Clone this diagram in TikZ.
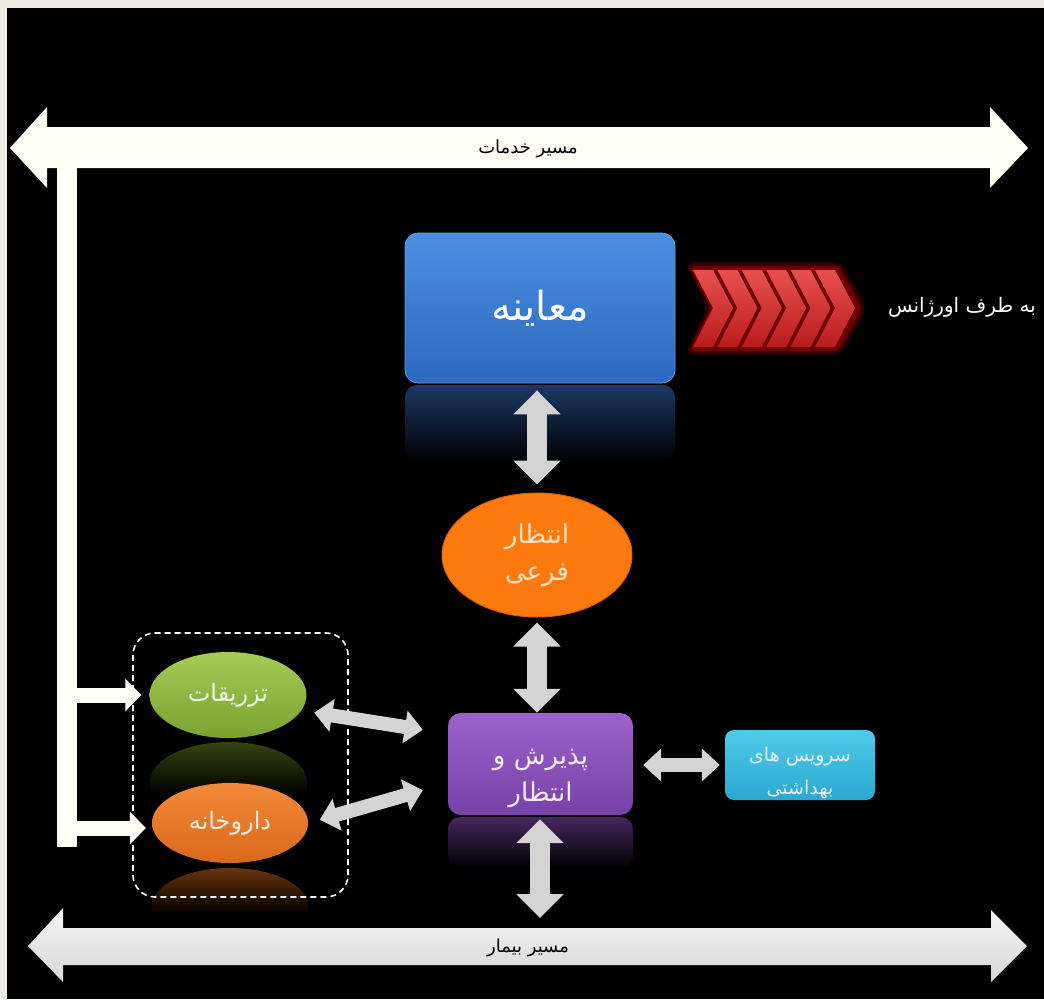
\documentclass[tikz,border=0pt]{standalone}
\usepackage{fontspec}
\newfontfamily\fa[Script=Arabic]{DejaVu Sans}
\TeXXeTstate=1
\usetikzlibrary{arrows.meta,shapes.geometric,calc}
\newcommand{\myrtl}[1]{\beginR #1\endR}
\newcommand{\twolines}[3]{\raisebox{-#1}[0pt][0pt]{\begin{tabular}{@{}c@{}}#2\\#3\end{tabular}}}
\definecolor{beigebg}{RGB}{238,235,227}
\definecolor{barwhite}{RGB}{255,255,246}
\definecolor{arrgray}{RGB}{212,212,212}
\begin{document}
\begin{tikzpicture}[x=1pt,y=-1pt,
  fsz/.style 2 args={font=\fa\fontsize{#1}{#2}\selectfont},
  rbox/.style={rounded corners=13pt, inner sep=0pt, align=center},
  ellnode/.style={ellipse, inner sep=0pt, align=center},
  bigarr/.style={draw=arrgray, line width=20pt,
     {Triangle[width=46pt,length=24pt]}-{Triangle[width=46pt,length=24pt]}},
  smallarr/.style={draw=arrgray, line width=14pt,
     {Triangle[width=32pt,length=18pt]}-{Triangle[width=32pt,length=18pt]}},
  feedarr/.style={draw=barwhite, line width=15pt,
     -{Triangle[width=32pt,length=16pt]}},
  reflect/.style={rounded corners=12pt},
  pathlabel/.style={fsz={18}{22}, text=black}
]
% background
\fill[beigebg] (0,0) rectangle (1044,999);
\fill[black] (7,8) rectangle (1044,999);
\useasboundingbox (0,0) rectangle (1044,999);

% top service path
\fill[barwhite] (10,148) -- (47,107) -- (47,127) -- (990,127) -- (990,107) -- (1028,148)
  -- (990,188) -- (990,168) -- (47,168) -- (47,188) -- cycle;
\node[pathlabel] (srv) at (528,149) {\beginR مسیر خدمات\endR};

% vertical bar
\node[fill=barwhite, minimum width=20pt, minimum height=679pt, inner sep=0pt,
  anchor=north west] (bar) at (57,168) {};

% bottom patient path
\shade[top color=gray!8, bottom color=gray!32]
  (28,946) -- (63,908) -- (63,928) -- (991,928) -- (991,910) -- (1027,946)
  -- (991,982) -- (991,965) -- (63,965) -- (63,982) -- cycle;
\node[pathlabel] (pat) at (528,948) {\beginR مسیر بیمار\endR};
\coordinate (pattop) at (540,918);

% reflections
\shade[reflect, top color={rgb,255:red,28;green,55;blue,100}, bottom color=black]
  (405,385) rectangle (675,462);
\shade[reflect, top color={rgb,255:red,70;green,40;blue,95}, bottom color=black]
  (448,817) rectangle (633,868);
\shade[top color={rgb,255:red,50;green,70;blue,18}, bottom color=black]
  (150,794) -- (150,782) arc[start angle=180, end angle=360, x radius=78.5, y radius=40] -- (307,794) -- cycle;
\shade[top color={rgb,255:red,105;green,52;blue,14}, bottom color=black]
  (152,914) -- (152,906) arc[start angle=180, end angle=360, x radius=78, y radius=38] -- (308,914) -- cycle;

% exam box
\node[rbox, minimum width=270pt, minimum height=150pt,
  top color={rgb,255:red,76;green,144;blue,224}, bottom color={rgb,255:red,44;green,104;blue,192},
  draw={rgb,255:red,95;green,155;blue,230}, line width=0.8pt,
  fsz={40}{48}, text=white] (exam) at (540,308) {\beginR معاینه\endR};

% urgent chevrons
\fill[red!85!black, opacity=0.22, rounded corners=9pt]
  (685,262) -- (841,262) -- (867,308) -- (841,355) -- (685,355) -- (707,308) -- cycle;
\fill[red!90!black, opacity=0.35, rounded corners=5pt]
  (689,266) -- (839,266) -- (862,308) -- (839,351) -- (689,351) -- (711,308) -- cycle;
\foreach \i in {0,...,5}{
  \pgfmathsetmacro{\cx}{693+24.4*\i}
  \shade[top color={rgb,255:red,232;green,80;blue,80}, bottom color={rgb,255:red,185;green,28;blue,28}]
    (\cx,270) -- ++(20,0) -- ++(20,38) -- ++(-20,39) -- ++(-20,0) -- ++(20,-39) -- cycle;
}
\node[fsz={20}{24}, text=white] (er) at (962,307) {\beginR به طرف اورژانس\endR};

% sub-waiting
\node[ellnode, minimum width=190pt, minimum height=124pt,
  fill={rgb,255:red,255;green,122;blue,14}, draw={rgb,255:red,225;green,95;blue,0}, line width=1pt,
  fsz={26}{37}, text={rgb,255:red,255;green,228;blue,200}] (wait2) at (537,555)
  {\beginR انتظار\endR\\\beginR فرعی\endR};

% reception
\node[rbox, minimum width=185pt, minimum height=102pt,
  top color={rgb,255:red,156;green,98;blue,202}, bottom color={rgb,255:red,118;green,66;blue,168},
  fsz={26}{37}, text={rgb,255:red,245;green,235;blue,252}] (recep) at (540.5,764)
  {\twolines{17.5pt}{\beginR پذیرش و\endR}{\beginR انتظار\endR}};

% health services
\node[rbox, rounded corners=9pt, minimum width=150pt, minimum height=70pt,
  top color={rgb,255:red,82;green,202;blue,234}, bottom color={rgb,255:red,40;green,168;blue,210},
  fsz={19}{33}, text={rgb,255:red,225;green,245;blue,252}] (health) at (800,765)
  {\twolines{10.5pt}{\beginR سرویس های\endR}{\beginR بهداشتی\endR}};

% injections and pharmacy
\node[ellnode, minimum width=157pt, minimum height=86pt,
  top color={rgb,255:red,166;green,202;blue,86}, bottom color={rgb,255:red,122;green,162;blue,48},
  fsz={24}{28}, text={rgb,255:red,240;green,248;blue,225}] (inj) at (228,695) {\beginR تزریقات\endR};
\node[ellnode, minimum width=156pt, minimum height=80pt,
  top color={rgb,255:red,242;green,138;blue,58}, bottom color={rgb,255:red,218;green,104;blue,26},
  fsz={24}{28}, text={rgb,255:red,255;green,240;blue,225}] (pharm) at (230,823) {\beginR داروخانه\endR};

% dashed group
\draw[white, line width=1.6pt, dash pattern=on 6pt off 4pt, rounded corners=22pt]
  (133,633) rectangle (348,897);

% connectors
\draw[bigarr, shorten <=7pt, shorten >=8pt] (exam.south -| wait2.north) -- (wait2.north);
\draw[bigarr, shorten <=5pt] (wait2.south) -- (wait2.south |- recep.north);
\draw[bigarr, shorten <=4pt] (recep.south -| pattop) -- (pattop);
\draw[smallarr, shorten <=10pt, shorten >=5pt] (recep.east |- health.west) -- (health.west);
\draw[smallarr, shorten <=13pt] (inj.-12) -- ($(recep.north west)+(-25,17)$);
\draw[smallarr, shorten <=12pt] (pharm.east) -- ($(recep.south west)+(-25,-25)$);
\draw[feedarr, shorten >=8pt] (bar.east |- inj.west) -- (inj.west);
\draw[feedarr, shorten >=6pt] ($(bar.east |- pharm.west)+(0,5)$) -- ($(pharm.west)+(0,5)$);
\end{tikzpicture}
\end{document}
